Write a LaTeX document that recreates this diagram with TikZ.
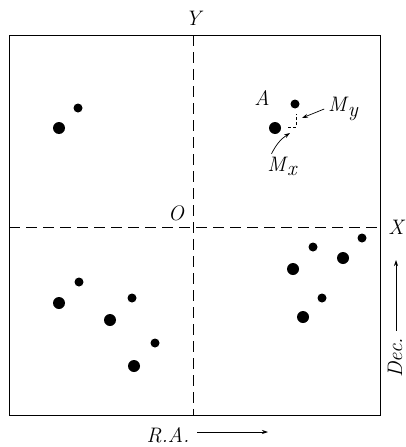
\documentclass[tikz,border=0pt]{standalone}
\usepackage{fontspec}
\usetikzlibrary{arrows.meta,positioning}

\newcommand{\msub}[1]{\textit{M}\kern1.5pt\raisebox{-0.45ex}{\textit{#1}}}

\begin{document}
\begin{tikzpicture}[x=1pt,y=-1pt,line width=1pt,
    font=\fontsize{21}{24}\selectfont\itshape,
    bigdot/.style={circle,fill=black,inner sep=0pt,minimum size=12pt},
    smalldot/.style={circle,fill=black,inner sep=0pt,minimum size=9pt},
    axisline/.style={dash pattern=on 11pt off 6pt},
    pointer/.style={-{Stealth[length=6pt,width=4pt]},line width=0.7pt}]
  \useasboundingbox (0,0) rectangle (406,447);
  % frame and axes
  \draw (9,35) rectangle (380,415);
  \coordinate (ytop) at (193,35);
  \coordinate (ybot) at (193,415);
  \coordinate (xleft) at (9,227);
  \coordinate (xright) at (380,227);
  \draw[axisline] (ytop) -- (ybot);
  \draw[axisline] (xleft) -- (xright);
  \node (ylab) at (193,18) {Y};
  \node (xlab) at (396,227) {X};
  \node (olab) at (176,213) {O};
  % upper left pair
  \node[bigdot] (ul1) at (59,128) {};
  \node[smalldot] (ul2) at (78,108) {};
  % pair A
  \node[bigdot] (a1) at (275,128) {};
  \node[smalldot] (a2) at (295,104) {};
  \node (alab) at (262,98) {A};
  \coordinate (m) at (296,127);
  \coordinate (mh) at (288,127);
  \coordinate (mv) at (296,114);
  \draw[line width=0.5pt,dash pattern=on 3pt off 2pt] (mh) -- (m) -- (mv);
  \node (mylab) at (343,109) {\msub{y}};
  \coordinate (mytip) at (302,118);
  \draw[pointer] (mylab.west) -- (mytip);
  \node (mxlab) at (282,166) {\msub{x}};
  \coordinate (mxtip) at (290,133);
  \path (mxlab.north west) ++(8,1) coordinate (mxstart);
  \draw[pointer] (mxstart) to[bend left=15] (mxtip);
  % lower left group
  \node[bigdot] (ll1) at (59,303) {};
  \node[smalldot] (ll2) at (79,282) {};
  \node[bigdot] (ll3) at (110,320) {};
  \node[smalldot] (ll4) at (132,298) {};
  \node[smalldot] (ll5) at (155,343) {};
  \node[bigdot] (ll6) at (134,366) {};
  % lower right group
  \node[smalldot] (lr1) at (362,238) {};
  \node[smalldot] (lr2) at (313,247) {};
  \node[bigdot] (lr3) at (343,258) {};
  \node[bigdot] (lr4) at (293,269) {};
  \node[smalldot] (lr5) at (322,298) {};
  \node[bigdot] (lr6) at (303,317) {};
  % directions
  \node (ralab) at (168,435) {R.A.};
  \coordinate (ratip) at (268,432);
  \path (ralab.east) ++(4,-3) coordinate (rastart);
  \draw[pointer] (rastart) -- (ratip);
  \node[rotate=90,inner sep=1pt] (declab) at (395,358) {Dec.};
  \path (declab.east) ++(1,-6) coordinate (decstart);
  \coordinate (dectip) at (decstart |- 0,260);
  \draw[pointer] (decstart) -- (dectip);
\end{tikzpicture}
\end{document}
